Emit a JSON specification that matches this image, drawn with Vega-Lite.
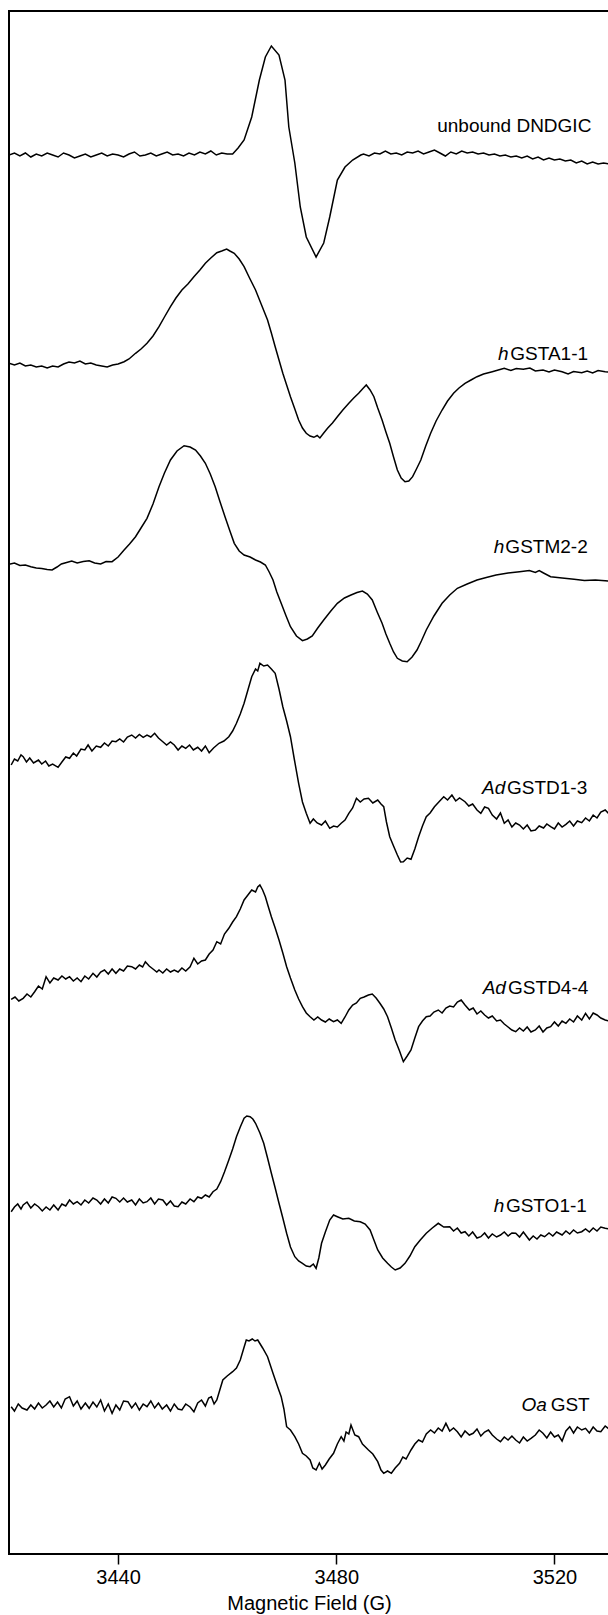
{
"$schema": "https://vega.github.io/schema/vega-lite/v6.json",
"width": 600,
"height": 1543,
"autosize": "none",
"padding": {"left": 9, "top": 11, "right": 0, "bottom": 61},
"background": "white",
"config": {"view": {"stroke": "black", "strokeWidth": 2}, "font": "Liberation Sans"},
"datasets": {
"t1": [{"g":3420,"v":1399},{"g":3421,"v":1401},{"g":3422,"v":1398},{"g":3423,"v":1401},{"g":3424,"v":1397},{"g":3425,"v":1400},{"g":3426,"v":1398},{"g":3427,"v":1401},{"g":3428,"v":1399},{"g":3429,"v":1397},{"g":3430,"v":1401},{"g":3431,"v":1399},{"g":3432,"v":1396},{"g":3433,"v":1398},{"g":3434,"v":1400},{"g":3435,"v":1397},{"g":3436,"v":1399},{"g":3437,"v":1401},{"g":3438,"v":1398},{"g":3439,"v":1400},{"g":3440,"v":1399},{"g":3441,"v":1397},{"g":3442,"v":1400},{"g":3443,"v":1402},{"g":3444,"v":1398},{"g":3445,"v":1399},{"g":3446,"v":1401},{"g":3447,"v":1398},{"g":3448,"v":1400},{"g":3449,"v":1402},{"g":3450,"v":1399},{"g":3451,"v":1400},{"g":3452,"v":1398},{"g":3453,"v":1401},{"g":3454,"v":1399},{"g":3455,"v":1402},{"g":3456,"v":1400},{"g":3457,"v":1403},{"g":3458,"v":1399},{"g":3459,"v":1401},{"g":3460,"v":1400},{"g":3461,"v":1400},{"g":3462,"v":1406},{"g":3463.1,"v":1414},{"g":3464.5,"v":1437},{"g":3465.9,"v":1474},{"g":3467,"v":1497},{"g":3468.1,"v":1508},{"g":3469.5,"v":1499},{"g":3470.6,"v":1474},{"g":3471.3,"v":1427},{"g":3472.4,"v":1391},{"g":3473.4,"v":1347},{"g":3474.5,"v":1317},{"g":3476.3,"v":1297},{"g":3477.7,"v":1311},{"g":3478.8,"v":1337},{"g":3480.2,"v":1374},{"g":3481.6,"v":1387},{"g":3483,"v":1394},{"g":3484.5,"v":1399},{"g":3485,"v":1400},{"g":3486,"v":1398},{"g":3487,"v":1401},{"g":3488,"v":1400},{"g":3489,"v":1403},{"g":3490,"v":1400},{"g":3491,"v":1401},{"g":3492,"v":1399},{"g":3493,"v":1402},{"g":3494,"v":1401},{"g":3495,"v":1403},{"g":3496,"v":1400},{"g":3497,"v":1402},{"g":3498,"v":1404},{"g":3499,"v":1401},{"g":3500,"v":1398},{"g":3501,"v":1402},{"g":3502,"v":1400},{"g":3503,"v":1403},{"g":3504,"v":1401},{"g":3505,"v":1402},{"g":3506,"v":1400},{"g":3507,"v":1401},{"g":3508,"v":1399},{"g":3509,"v":1400},{"g":3510,"v":1398},{"g":3511,"v":1399},{"g":3512,"v":1397},{"g":3513,"v":1398},{"g":3514,"v":1396},{"g":3515,"v":1398},{"g":3516,"v":1395},{"g":3517,"v":1397},{"g":3518,"v":1394},{"g":3519,"v":1396},{"g":3520,"v":1394},{"g":3521,"v":1395},{"g":3522,"v":1393},{"g":3523,"v":1394},{"g":3524,"v":1391},{"g":3525,"v":1393},{"g":3526,"v":1390},{"g":3527,"v":1392},{"g":3528,"v":1390},{"g":3529,"v":1391},{"g":3530,"v":1390}],
"t2": [{"g":3420,"v":1190.7},{"g":3421,"v":1189},{"g":3422,"v":1191},{"g":3423,"v":1188},{"g":3424,"v":1189},{"g":3425,"v":1187},{"g":3426,"v":1188},{"g":3427,"v":1186},{"g":3428,"v":1188},{"g":3429,"v":1187},{"g":3430,"v":1190},{"g":3431,"v":1192},{"g":3432,"v":1191},{"g":3433,"v":1193},{"g":3434,"v":1190},{"g":3435,"v":1191},{"g":3436,"v":1189},{"g":3437,"v":1188},{"g":3438,"v":1187},{"g":3439,"v":1189},{"g":3440,"v":1190},{"g":3441.1,"v":1192.3},{"g":3442,"v":1195},{"g":3443.2,"v":1200.7},{"g":3444.2,"v":1205},{"g":3445.3,"v":1210.7},{"g":3446.4,"v":1218},{"g":3447.5,"v":1227.3},{"g":3448.5,"v":1237},{"g":3449.6,"v":1247.3},{"g":3450.6,"v":1256},{"g":3451.7,"v":1264},{"g":3452.8,"v":1270},{"g":3453.9,"v":1277.3},{"g":3455,"v":1284},{"g":3456,"v":1290.7},{"g":3457,"v":1296},{"g":3458.1,"v":1301.3},{"g":3459,"v":1303},{"g":3459.9,"v":1305},{"g":3460.5,"v":1303},{"g":3461.3,"v":1300.7},{"g":3462.2,"v":1295},{"g":3463.1,"v":1287.3},{"g":3464.1,"v":1276},{"g":3465.2,"v":1264},{"g":3466.3,"v":1249},{"g":3467.4,"v":1234},{"g":3468.1,"v":1221},{"g":3468.8,"v":1207.3},{"g":3469.5,"v":1194},{"g":3470.2,"v":1180.7},{"g":3470.9,"v":1169},{"g":3471.6,"v":1157.3},{"g":3472.4,"v":1145},{"g":3473.1,"v":1134},{"g":3473.8,"v":1126},{"g":3474.5,"v":1120.7},{"g":3475.2,"v":1118},{"g":3475.9,"v":1116.7},{"g":3476.5,"v":1118.5},{"g":3477,"v":1116},{"g":3477.7,"v":1121},{"g":3478.4,"v":1125.7},{"g":3479.3,"v":1131},{"g":3480.2,"v":1137.3},{"g":3481.2,"v":1144},{"g":3482.3,"v":1150.7},{"g":3483.2,"v":1156},{"g":3484.1,"v":1160.7},{"g":3484.8,"v":1165},{"g":3485.5,"v":1169},{"g":3486.2,"v":1164},{"g":3486.9,"v":1157.3},{"g":3487.6,"v":1146},{"g":3488.4,"v":1134},{"g":3489.1,"v":1122},{"g":3489.8,"v":1110.7},{"g":3490.5,"v":1097},{"g":3491.2,"v":1084},{"g":3491.9,"v":1076},{"g":3492.6,"v":1072.3},{"g":3493.3,"v":1073},{"g":3494,"v":1077.3},{"g":3494.7,"v":1085},{"g":3495.5,"v":1094},{"g":3496.4,"v":1108},{"g":3497.3,"v":1120.7},{"g":3498.3,"v":1133},{"g":3499.4,"v":1144},{"g":3500.4,"v":1153},{"g":3501.5,"v":1160.7},{"g":3502.5,"v":1166},{"g":3503.6,"v":1170.7},{"g":3504.7,"v":1174},{"g":3505.8,"v":1177.3},{"g":3507,"v":1180},{"g":3508.6,"v":1182.3},{"g":3509.7,"v":1184},{"g":3510.8,"v":1185.7},{"g":3512,"v":1183.5},{"g":3513,"v":1185.5},{"g":3514.3,"v":1184.7},{"g":3515.5,"v":1186},{"g":3516.5,"v":1183},{"g":3517.9,"v":1184},{"g":3519,"v":1182},{"g":3520,"v":1184},{"g":3521.4,"v":1182.3},{"g":3522.5,"v":1180},{"g":3523.5,"v":1182.5},{"g":3525,"v":1181.3},{"g":3526,"v":1183},{"g":3527,"v":1181},{"g":3528,"v":1183.5},{"g":3529.3,"v":1182.3},{"g":3530,"v":1182}],
"t3": [{"g":3420,"v":989.7},{"g":3421,"v":991},{"g":3422,"v":988.5},{"g":3423,"v":989},{"g":3424,"v":987.3},{"g":3425,"v":986},{"g":3426,"v":985.5},{"g":3427,"v":984.5},{"g":3427.9,"v":984},{"g":3428.8,"v":987},{"g":3429.6,"v":990},{"g":3430.4,"v":991.3},{"g":3431.5,"v":993},{"g":3432.5,"v":991},{"g":3433.6,"v":992.5},{"g":3434.7,"v":993.3},{"g":3435.7,"v":991},{"g":3436.8,"v":990},{"g":3437.8,"v":992.5},{"g":3438.9,"v":992.3},{"g":3440,"v":997},{"g":3441.1,"v":1004},{"g":3442.1,"v":1010},{"g":3443.2,"v":1017.3},{"g":3444.2,"v":1026},{"g":3445.3,"v":1035.7},{"g":3446.4,"v":1050},{"g":3447.5,"v":1067.3},{"g":3448.5,"v":1081},{"g":3449.6,"v":1094},{"g":3450.8,"v":1103},{"g":3452.1,"v":1108.3},{"g":3453.2,"v":1107},{"g":3454.2,"v":1104},{"g":3455.1,"v":1098},{"g":3456,"v":1090.7},{"g":3456.9,"v":1080},{"g":3457.8,"v":1067.3},{"g":3458.7,"v":1052},{"g":3459.6,"v":1037.3},{"g":3460.5,"v":1023},{"g":3461.3,"v":1010.7},{"g":3462.2,"v":1003},{"g":3463.1,"v":999},{"g":3464.2,"v":997},{"g":3465.2,"v":994},{"g":3466.1,"v":992},{"g":3467,"v":989},{"g":3467.7,"v":982},{"g":3468.4,"v":974},{"g":3469.1,"v":962},{"g":3469.9,"v":950.7},{"g":3470.8,"v":938},{"g":3471.6,"v":927.3},{"g":3472.7,"v":918},{"g":3473.8,"v":913.3},{"g":3474.7,"v":915},{"g":3475.6,"v":918},{"g":3476.6,"v":926},{"g":3477.7,"v":934},{"g":3479,"v":943},{"g":3480.2,"v":950.7},{"g":3481.5,"v":956},{"g":3482.7,"v":959},{"g":3483.8,"v":961.5},{"g":3484.8,"v":963},{"g":3485.7,"v":960},{"g":3486.6,"v":954},{"g":3487.5,"v":942},{"g":3488.4,"v":930.7},{"g":3489.1,"v":920},{"g":3489.8,"v":910.7},{"g":3490.5,"v":902},{"g":3491.2,"v":895.7},{"g":3492.1,"v":893},{"g":3493,"v":892.3},{"g":3493.9,"v":897},{"g":3494.8,"v":904},{"g":3495.6,"v":913},{"g":3496.5,"v":924},{"g":3497.9,"v":938},{"g":3499.4,"v":950.7},{"g":3500.8,"v":959},{"g":3502.2,"v":965.7},{"g":3504,"v":970},{"g":3505.8,"v":974},{"g":3507.5,"v":976.5},{"g":3509.3,"v":979},{"g":3511.5,"v":981},{"g":3513.6,"v":982.3},{"g":3515.4,"v":983.5},{"g":3516.5,"v":981.5},{"g":3517.2,"v":983.5},{"g":3518,"v":981},{"g":3519.3,"v":977.3},{"g":3521.4,"v":976},{"g":3523.6,"v":974.7},{"g":3525.5,"v":973.5},{"g":3527.5,"v":974},{"g":3529.3,"v":973.3},{"g":3530,"v":973}],
"t4": [{"g":3420.4,"v":789},{"g":3421,"v":795},{"g":3421.6,"v":793},{"g":3422.2,"v":799},{"g":3422.6,"v":797.3},{"g":3423.2,"v":792},{"g":3423.8,"v":796},{"g":3424.5,"v":791},{"g":3425.4,"v":794},{"g":3426,"v":790},{"g":3426.7,"v":793},{"g":3427.3,"v":788},{"g":3428,"v":790},{"g":3429,"v":786.7},{"g":3429.7,"v":792},{"g":3430.4,"v":797},{"g":3431.1,"v":795.7},{"g":3431.8,"v":801},{"g":3432.4,"v":798},{"g":3433.2,"v":805},{"g":3433.9,"v":804},{"g":3434.5,"v":809},{"g":3435.2,"v":803},{"g":3436,"v":808},{"g":3436.8,"v":806.7},{"g":3437.5,"v":811},{"g":3438.2,"v":808},{"g":3438.9,"v":813},{"g":3439.6,"v":812.3},{"g":3440.3,"v":815},{"g":3441,"v":812},{"g":3441.7,"v":817},{"g":3442.5,"v":819},{"g":3443.2,"v":816},{"g":3443.9,"v":819.5},{"g":3444.6,"v":816.7},{"g":3445.3,"v":819},{"g":3446,"v":817},{"g":3446.7,"v":820.7},{"g":3447.4,"v":816},{"g":3448.2,"v":812.3},{"g":3448.9,"v":809},{"g":3449.6,"v":812},{"g":3450.3,"v":809},{"g":3451,"v":804},{"g":3451.7,"v":808},{"g":3452.4,"v":805.7},{"g":3453.1,"v":809},{"g":3453.8,"v":804},{"g":3454.6,"v":806.7},{"g":3455.3,"v":803},{"g":3456,"v":808},{"g":3456.7,"v":801.3},{"g":3457.5,"v":806},{"g":3458.5,"v":810.7},{"g":3459.4,"v":813},{"g":3460.3,"v":817.3},{"g":3461,"v":823},{"g":3461.7,"v":830.7},{"g":3462.4,"v":840},{"g":3463.1,"v":850.7},{"g":3463.8,"v":864},{"g":3464.5,"v":877.3},{"g":3465.2,"v":885},{"g":3465.6,"v":883},{"g":3466,"v":890.7},{"g":3466.7,"v":888},{"g":3467.4,"v":889},{"g":3468.1,"v":885},{"g":3468.8,"v":880.7},{"g":3469.5,"v":865},{"g":3470.2,"v":847.3},{"g":3470.9,"v":833},{"g":3471.6,"v":817.3},{"g":3472.3,"v":795},{"g":3473.1,"v":770.7},{"g":3473.8,"v":752},{"g":3474.5,"v":740.7},{"g":3475.2,"v":730.7},{"g":3475.8,"v":735},{"g":3476.5,"v":731},{"g":3477.3,"v":729},{"g":3478,"v":733},{"g":3478.8,"v":725.7},{"g":3479.5,"v":728},{"g":3480.2,"v":727},{"g":3480.9,"v":730.7},{"g":3481.6,"v":734},{"g":3482.3,"v":740.7},{"g":3483,"v":746},{"g":3483.7,"v":755.7},{"g":3484.4,"v":752},{"g":3485.1,"v":755},{"g":3485.9,"v":755.7},{"g":3486.7,"v":751},{"g":3487.6,"v":754},{"g":3488.2,"v":750},{"g":3488.7,"v":747.3},{"g":3489.2,"v":732},{"g":3489.8,"v":717.3},{"g":3490.5,"v":708},{"g":3491.2,"v":699},{"g":3491.8,"v":692},{"g":3492.3,"v":692.3},{"g":3493,"v":696},{"g":3493.7,"v":694.7},{"g":3494.4,"v":705},{"g":3495.1,"v":717.3},{"g":3495.8,"v":728},{"g":3496.5,"v":737.3},{"g":3497.2,"v":741},{"g":3498,"v":747.3},{"g":3498.8,"v":752},{"g":3499.7,"v":757.3},{"g":3500.4,"v":754},{"g":3501.2,"v":759},{"g":3501.9,"v":753},{"g":3502.6,"v":756},{"g":3503.6,"v":752.3},{"g":3504.3,"v":748},{"g":3505,"v":750},{"g":3505.8,"v":744},{"g":3506.5,"v":740.7},{"g":3507.2,"v":747},{"g":3507.9,"v":745.7},{"g":3508.6,"v":739},{"g":3509.4,"v":735},{"g":3510.1,"v":741},{"g":3510.8,"v":730.7},{"g":3511.5,"v":734},{"g":3512.2,"v":727},{"g":3512.9,"v":731},{"g":3513.6,"v":729},{"g":3514.3,"v":725},{"g":3515,"v":729},{"g":3515.7,"v":723},{"g":3516.5,"v":724},{"g":3517.2,"v":728},{"g":3518,"v":726},{"g":3518.6,"v":730},{"g":3519.3,"v":727.3},{"g":3520,"v":725},{"g":3520.7,"v":731},{"g":3521.4,"v":727},{"g":3522.1,"v":729.7},{"g":3522.8,"v":733},{"g":3523.5,"v":728},{"g":3524.2,"v":733},{"g":3525,"v":731.3},{"g":3525.7,"v":736},{"g":3526.4,"v":733},{"g":3527.1,"v":739},{"g":3527.8,"v":736},{"g":3528.5,"v":742},{"g":3529.3,"v":744},{"g":3530,"v":740}],
"t5": [{"g":3420.4,"v":554.7},{"g":3421.1,"v":557},{"g":3421.8,"v":553},{"g":3422.6,"v":555.7},{"g":3423.3,"v":560},{"g":3424,"v":557},{"g":3424.7,"v":562.3},{"g":3425.4,"v":568},{"g":3426.1,"v":565},{"g":3426.8,"v":577.3},{"g":3427.5,"v":571},{"g":3428.2,"v":576},{"g":3429,"v":574},{"g":3429.7,"v":578},{"g":3430.4,"v":575},{"g":3431.1,"v":577.3},{"g":3431.8,"v":573},{"g":3432.5,"v":576},{"g":3433.2,"v":572.3},{"g":3433.9,"v":578},{"g":3434.6,"v":575},{"g":3435.4,"v":580.7},{"g":3436.1,"v":577},{"g":3436.8,"v":582},{"g":3437.5,"v":584},{"g":3438.2,"v":580},{"g":3438.9,"v":585},{"g":3439.6,"v":580.7},{"g":3440.3,"v":585},{"g":3441,"v":583},{"g":3441.7,"v":588},{"g":3442.5,"v":587.3},{"g":3443.2,"v":585},{"g":3443.9,"v":589},{"g":3444.5,"v":587},{"g":3445,"v":592.3},{"g":3445.7,"v":588},{"g":3446.4,"v":585},{"g":3447.1,"v":582},{"g":3447.5,"v":584},{"g":3448.2,"v":581},{"g":3448.9,"v":585},{"g":3449.6,"v":582},{"g":3450.3,"v":584},{"g":3451,"v":582},{"g":3451.7,"v":586},{"g":3452.4,"v":583},{"g":3453.2,"v":587.3},{"g":3453.9,"v":595.7},{"g":3454.6,"v":590},{"g":3455.3,"v":593},{"g":3456,"v":594},{"g":3456.7,"v":600},{"g":3457.4,"v":604},{"g":3458.1,"v":612.3},{"g":3458.8,"v":610},{"g":3459.5,"v":620},{"g":3460.3,"v":625.7},{"g":3461,"v":632},{"g":3461.7,"v":637.3},{"g":3462.4,"v":645},{"g":3463.1,"v":654},{"g":3463.8,"v":659},{"g":3464.5,"v":664},{"g":3465.2,"v":662},{"g":3465.6,"v":667},{"g":3466,"v":669},{"g":3466.5,"v":664},{"g":3467,"v":657.3},{"g":3467.5,"v":648},{"g":3468.1,"v":637.3},{"g":3468.8,"v":626},{"g":3469.5,"v":614},{"g":3470.2,"v":601},{"g":3470.9,"v":587.3},{"g":3471.6,"v":576},{"g":3472.4,"v":564},{"g":3473.1,"v":555},{"g":3473.8,"v":547.3},{"g":3474.5,"v":541},{"g":3475.2,"v":537.3},{"g":3475.9,"v":534},{"g":3476.6,"v":537},{"g":3477.3,"v":534},{"g":3478,"v":532},{"g":3478.7,"v":535},{"g":3479.5,"v":532.3},{"g":3480.2,"v":534},{"g":3480.9,"v":530.7},{"g":3481.6,"v":537},{"g":3482.3,"v":544},{"g":3483,"v":549},{"g":3483.7,"v":551},{"g":3484.4,"v":555.7},{"g":3485.1,"v":557},{"g":3485.9,"v":559},{"g":3486.6,"v":560},{"g":3487.3,"v":556},{"g":3488,"v":550.7},{"g":3488.7,"v":545},{"g":3489.4,"v":537.3},{"g":3490.1,"v":526},{"g":3490.8,"v":514},{"g":3491.6,"v":503},{"g":3492.3,"v":492.3},{"g":3493,"v":498},{"g":3493.7,"v":504},{"g":3494.4,"v":516},{"g":3495.1,"v":527.3},{"g":3495.8,"v":533},{"g":3496.5,"v":537.3},{"g":3497.2,"v":538},{"g":3497.9,"v":542},{"g":3498.7,"v":544},{"g":3499.4,"v":541},{"g":3500.1,"v":546},{"g":3500.8,"v":548},{"g":3501.5,"v":547},{"g":3502.2,"v":552},{"g":3502.9,"v":554},{"g":3503.6,"v":549},{"g":3504.4,"v":544},{"g":3505.1,"v":546},{"g":3505.8,"v":540},{"g":3506.5,"v":543},{"g":3507.2,"v":539},{"g":3507.9,"v":536},{"g":3508.6,"v":538},{"g":3509.4,"v":533},{"g":3510.1,"v":534},{"g":3510.8,"v":530},{"g":3511.5,"v":527},{"g":3512.2,"v":524},{"g":3512.9,"v":522.3},{"g":3513.6,"v":526},{"g":3514.3,"v":523},{"g":3515,"v":527},{"g":3515.7,"v":522},{"g":3516.5,"v":524},{"g":3517.2,"v":528},{"g":3517.9,"v":522},{"g":3518.6,"v":526},{"g":3519.3,"v":527.3},{"g":3520,"v":532},{"g":3520.7,"v":528},{"g":3521.4,"v":533},{"g":3522.1,"v":530.7},{"g":3522.8,"v":535},{"g":3523.5,"v":532},{"g":3524.2,"v":538},{"g":3525,"v":534},{"g":3525.7,"v":540.7},{"g":3526.4,"v":535},{"g":3527.1,"v":541},{"g":3527.8,"v":539},{"g":3528.5,"v":536},{"g":3529.3,"v":534},{"g":3530,"v":533}],
"t6": [{"g":3420.4,"v":342.3},{"g":3421,"v":347},{"g":3421.6,"v":350},{"g":3422.2,"v":345},{"g":3422.6,"v":349},{"g":3423.3,"v":352},{"g":3424,"v":346},{"g":3424.7,"v":350},{"g":3425.4,"v":347.3},{"g":3426.1,"v":343},{"g":3426.8,"v":347},{"g":3427.5,"v":344},{"g":3428.2,"v":349},{"g":3429,"v":344},{"g":3429.7,"v":350},{"g":3430.4,"v":348},{"g":3431.1,"v":354},{"g":3431.8,"v":350},{"g":3432.5,"v":352.3},{"g":3433.2,"v":349},{"g":3433.9,"v":354},{"g":3434.6,"v":351},{"g":3435.4,"v":356},{"g":3436.1,"v":354},{"g":3436.8,"v":350},{"g":3437.5,"v":355},{"g":3438.2,"v":351},{"g":3438.9,"v":357},{"g":3439.6,"v":355.7},{"g":3440.3,"v":352},{"g":3441,"v":356},{"g":3441.7,"v":352},{"g":3442.5,"v":354},{"g":3443.2,"v":349},{"g":3443.9,"v":355},{"g":3444.6,"v":351},{"g":3445.3,"v":352.3},{"g":3446,"v":356},{"g":3446.7,"v":350},{"g":3447.4,"v":355},{"g":3448.2,"v":354},{"g":3448.9,"v":349},{"g":3449.6,"v":353},{"g":3450.3,"v":348},{"g":3451,"v":347.3},{"g":3451.7,"v":352},{"g":3452.4,"v":350},{"g":3453.2,"v":355},{"g":3453.9,"v":352.3},{"g":3454.6,"v":357},{"g":3455.3,"v":355.7},{"g":3456,"v":359},{"g":3456.7,"v":357},{"g":3457.4,"v":362.3},{"g":3458.1,"v":365},{"g":3458.8,"v":372.3},{"g":3459.5,"v":382},{"g":3460.3,"v":394},{"g":3461,"v":405},{"g":3461.7,"v":417.3},{"g":3462.4,"v":427},{"g":3463.1,"v":435.7},{"g":3463.6,"v":438},{"g":3464.2,"v":437.3},{"g":3464.7,"v":435},{"g":3465.2,"v":430.7},{"g":3466,"v":421},{"g":3466.7,"v":410.7},{"g":3467.4,"v":396},{"g":3468.1,"v":380.7},{"g":3468.8,"v":366},{"g":3469.5,"v":350.7},{"g":3470.2,"v":336},{"g":3470.9,"v":320.7},{"g":3471.6,"v":307},{"g":3472.4,"v":297.3},{"g":3473.1,"v":293},{"g":3473.8,"v":290.7},{"g":3474.5,"v":288},{"g":3475.2,"v":287.3},{"g":3475.8,"v":290},{"g":3476.3,"v":285.7},{"g":3476.8,"v":296},{"g":3477.3,"v":310.7},{"g":3478,"v":322},{"g":3478.8,"v":334},{"g":3479.5,"v":339},{"g":3480.2,"v":337.3},{"g":3481.2,"v":335},{"g":3482.3,"v":335.7},{"g":3483.3,"v":333},{"g":3484.4,"v":332.3},{"g":3485.3,"v":330},{"g":3486.2,"v":324},{"g":3486.9,"v":314},{"g":3487.6,"v":304},{"g":3488.5,"v":296},{"g":3489.4,"v":290.7},{"g":3490.1,"v":287},{"g":3490.8,"v":284},{"g":3491.7,"v":286},{"g":3492.6,"v":290.7},{"g":3493.5,"v":298},{"g":3494.4,"v":307.3},{"g":3495.4,"v":314},{"g":3496.5,"v":320.7},{"g":3497.6,"v":326},{"g":3498.7,"v":330.7},{"g":3499.7,"v":327},{"g":3500.8,"v":327.3},{"g":3501.5,"v":323},{"g":3502.2,"v":326},{"g":3502.9,"v":321},{"g":3503.6,"v":322.3},{"g":3504.3,"v":318},{"g":3505,"v":322},{"g":3505.8,"v":316},{"g":3506.5,"v":317.3},{"g":3507.2,"v":321},{"g":3507.9,"v":316},{"g":3508.6,"v":320},{"g":3509.4,"v":317},{"g":3510.1,"v":319},{"g":3510.8,"v":322},{"g":3511.5,"v":318},{"g":3512.2,"v":321},{"g":3512.9,"v":320.7},{"g":3513.6,"v":317},{"g":3514.3,"v":322},{"g":3515.4,"v":314},{"g":3516.1,"v":318},{"g":3516.8,"v":315},{"g":3517.5,"v":319},{"g":3518.2,"v":317.3},{"g":3519,"v":321},{"g":3519.7,"v":318},{"g":3520.4,"v":322},{"g":3521.4,"v":319},{"g":3522.1,"v":323},{"g":3522.8,"v":320},{"g":3523.5,"v":324},{"g":3524.2,"v":321},{"g":3525,"v":322.3},{"g":3525.7,"v":325},{"g":3526.4,"v":322},{"g":3527.1,"v":326},{"g":3527.8,"v":323},{"g":3528.5,"v":327},{"g":3529.3,"v":325.7},{"g":3530,"v":325}],
"t7": [{"g":3420.4,"v":147.3},{"g":3421,"v":143},{"g":3421.7,"v":150},{"g":3422.4,"v":146},{"g":3423.3,"v":144},{"g":3424,"v":149},{"g":3424.7,"v":145},{"g":3425.4,"v":151},{"g":3426.1,"v":146},{"g":3426.8,"v":149},{"g":3427.5,"v":153},{"g":3428.2,"v":147},{"g":3428.9,"v":152},{"g":3429.6,"v":146},{"g":3430.3,"v":155},{"g":3431.1,"v":157.3},{"g":3431.8,"v":148},{"g":3432.5,"v":153},{"g":3433.2,"v":145},{"g":3434,"v":151},{"g":3434.7,"v":145.7},{"g":3435.4,"v":152},{"g":3436.1,"v":147},{"g":3436.8,"v":154},{"g":3437.5,"v":143},{"g":3438.2,"v":150},{"g":3438.9,"v":140.7},{"g":3439.6,"v":149},{"g":3440.3,"v":144},{"g":3441,"v":153},{"g":3441.8,"v":152.3},{"g":3442.5,"v":146},{"g":3443.2,"v":151},{"g":3443.9,"v":144},{"g":3444.6,"v":150},{"g":3445.3,"v":147.3},{"g":3446,"v":153},{"g":3446.7,"v":146},{"g":3447.4,"v":151},{"g":3448.1,"v":145},{"g":3448.9,"v":149},{"g":3449.6,"v":143},{"g":3450.3,"v":150},{"g":3451,"v":145},{"g":3451.7,"v":144},{"g":3452.4,"v":150},{"g":3453.2,"v":147},{"g":3453.9,"v":142.3},{"g":3454.6,"v":151},{"g":3455.3,"v":154},{"g":3456,"v":148},{"g":3456.6,"v":156},{"g":3457.1,"v":157.3},{"g":3457.6,"v":150},{"g":3458.1,"v":154},{"g":3458.7,"v":165},{"g":3459.2,"v":174},{"g":3460,"v":178},{"g":3461,"v":182.3},{"g":3461.7,"v":186},{"g":3462.4,"v":194},{"g":3463,"v":205},{"g":3463.5,"v":214},{"g":3464,"v":213},{"g":3464.6,"v":215},{"g":3465.1,"v":213},{"g":3465.6,"v":214},{"g":3466.5,"v":206},{"g":3467.4,"v":197.3},{"g":3468.4,"v":180.7},{"g":3469.2,"v":168},{"g":3469.9,"v":157.3},{"g":3470.4,"v":145},{"g":3470.9,"v":127.3},{"g":3471.6,"v":124},{"g":3472.4,"v":117.3},{"g":3473.1,"v":110},{"g":3473.8,"v":100.7},{"g":3474.5,"v":98},{"g":3475.2,"v":94},{"g":3475.7,"v":86},{"g":3476.3,"v":84},{"g":3476.9,"v":91},{"g":3477.4,"v":85},{"g":3478,"v":89},{"g":3478.7,"v":95},{"g":3479.5,"v":100.7},{"g":3480.2,"v":110},{"g":3480.9,"v":117.3},{"g":3481.4,"v":113},{"g":3481.8,"v":122},{"g":3482.3,"v":120},{"g":3482.7,"v":129},{"g":3483.4,"v":119},{"g":3484.1,"v":117.3},{"g":3484.8,"v":110},{"g":3485.9,"v":104},{"g":3486.7,"v":100},{"g":3487.6,"v":92.3},{"g":3488.2,"v":84},{"g":3488.7,"v":80.7},{"g":3489.4,"v":83},{"g":3490.1,"v":80.7},{"g":3490.8,"v":86},{"g":3491.6,"v":90.7},{"g":3492.2,"v":97},{"g":3492.8,"v":95},{"g":3493.7,"v":104},{"g":3494.4,"v":110},{"g":3495.1,"v":114},{"g":3495.8,"v":112},{"g":3496.5,"v":120},{"g":3497.3,"v":124},{"g":3498,"v":121},{"g":3498.7,"v":126},{"g":3499.4,"v":123},{"g":3500.1,"v":130.7},{"g":3500.8,"v":123},{"g":3501.5,"v":126},{"g":3502.2,"v":122.3},{"g":3502.9,"v":117},{"g":3503.6,"v":123},{"g":3504.4,"v":119},{"g":3505.1,"v":120.7},{"g":3505.8,"v":125},{"g":3506.5,"v":118},{"g":3507.2,"v":122},{"g":3507.9,"v":124},{"g":3508.6,"v":119},{"g":3509.4,"v":115},{"g":3510.1,"v":112.3},{"g":3510.8,"v":117},{"g":3511.5,"v":114},{"g":3512.2,"v":118},{"g":3512.9,"v":114},{"g":3513.6,"v":111},{"g":3514.3,"v":117},{"g":3515,"v":113},{"g":3515.7,"v":115.7},{"g":3516.5,"v":119},{"g":3517.2,"v":124},{"g":3517.9,"v":120.7},{"g":3518.6,"v":116},{"g":3519.3,"v":122},{"g":3520,"v":117},{"g":3520.7,"v":119},{"g":3521.4,"v":113},{"g":3522.1,"v":123},{"g":3522.8,"v":127.3},{"g":3523.5,"v":121},{"g":3524.2,"v":127},{"g":3525,"v":124},{"g":3525.7,"v":125.7},{"g":3526.4,"v":121},{"g":3527.1,"v":127},{"g":3527.8,"v":123},{"g":3528.5,"v":122.3},{"g":3529.3,"v":128},{"g":3530,"v":125}],
"labels": [{"pre":"","rest":"unbound DNDGIC","g":3498.5,"pg":3498.3,"v":1428},{"pre":"h","rest":"GSTA1-1","g":3511.9,"pg":3511.6,"v":1200},{"pre":"h","rest":"GSTM2-2","g":3511.0,"pg":3510.8,"v":1007},{"pre":"Ad","rest":"GSTD1-3","g":3511.3,"pg":3511.0,"v":766},{"pre":"Ad","rest":"GSTD4-4","g":3511.5,"pg":3511.1,"v":566},{"pre":"h","rest":"GSTO1-1","g":3511.1,"pg":3510.8,"v":348},{"pre":"Oa","rest":"GST","g":3519.3,"pg":3518.6,"v":149}]
},
"encoding": {
"x": {"field": "g", "type": "quantitative", "scale": {"domain": [3420, 3530], "nice": false, "zero": false}, "axis": {"values": [3440, 3480, 3520], "format": "d", "grid": false, "domain": false, "ticks": true, "tickSize": 10, "tickWidth": 1.5, "tickColor": "black", "labelFontSize": 20, "labelColor": "black", "labelFont": "Liberation Sans", "labelPadding": 3, "title": "Magnetic Field (G)", "titleFontSize": 20, "titleFontWeight": "normal", "titleColor": "black", "titleFont": "Liberation Sans", "titlePadding": 6}},
"y": {"field": "v", "type": "quantitative", "scale": {"domain": [0, 1543], "nice": false, "zero": false}, "axis": null}
},
"layer": [
{"data": {"name": "t1"}, "mark": {"type": "line", "color": "black", "strokeWidth": 1.5, "clip": true}},
{"data": {"name": "t2"}, "mark": {"type": "line", "color": "black", "strokeWidth": 1.5, "clip": true}},
{"data": {"name": "t3"}, "mark": {"type": "line", "color": "black", "strokeWidth": 1.5, "clip": true}},
{"data": {"name": "t4"}, "mark": {"type": "line", "color": "black", "strokeWidth": 1.5, "clip": true}},
{"data": {"name": "t5"}, "mark": {"type": "line", "color": "black", "strokeWidth": 1.5, "clip": true}},
{"data": {"name": "t6"}, "mark": {"type": "line", "color": "black", "strokeWidth": 1.5, "clip": true}},
{"data": {"name": "t7"}, "mark": {"type": "line", "color": "black", "strokeWidth": 1.5, "clip": true}},
{"data": {"name": "labels"}, "mark": {"type": "text", "align": "left", "baseline": "middle", "fontSize": 19, "font": "Liberation Sans", "color": "black"}, "encoding": {"text": {"field": "rest"}}},
{"data": {"name": "labels"}, "mark": {"type": "text", "align": "right", "baseline": "middle", "fontSize": 19, "font": "Liberation Sans", "fontStyle": "italic", "color": "black"}, "encoding": {"x": {"field": "pg", "type": "quantitative"}, "text": {"field": "pre"}}}
]
}
